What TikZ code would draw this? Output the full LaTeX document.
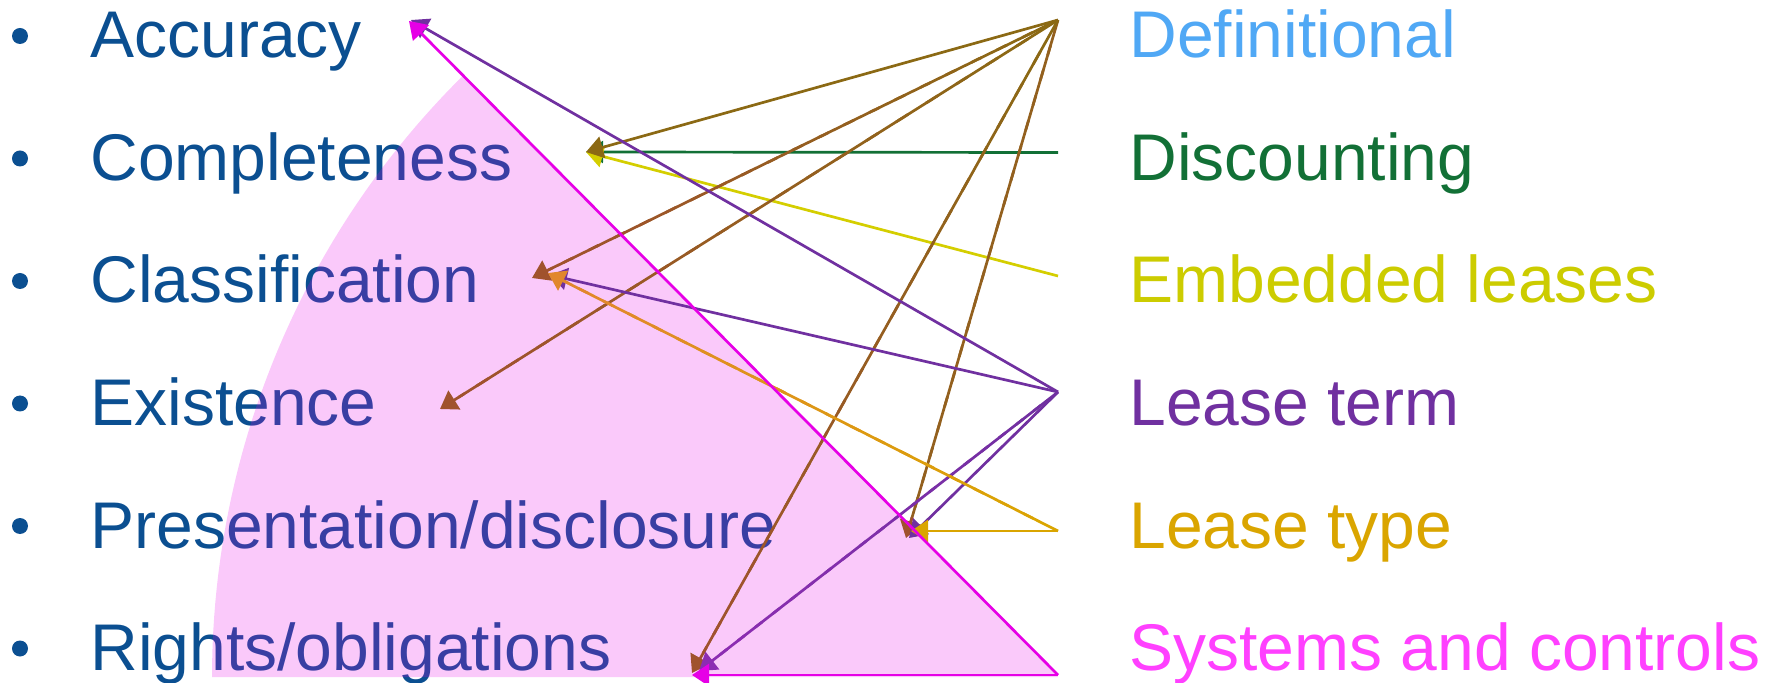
\documentclass[tikz,border=0pt]{standalone}
\usepackage{fontspec}
\setmainfont{Liberation Sans}
\usetikzlibrary{arrows.meta,calc}
\definecolor{cLeft}{RGB}{11,79,145}
\definecolor{cDef}{RGB}{80,168,245}
\definecolor{cDis}{RGB}{18,112,54}
\definecolor{cEmbT}{RGB}{204,204,0}
\definecolor{cEmb}{RGB}{212,206,0}
\definecolor{cTerm}{RGB}{112,48,160}
\definecolor{cViolet}{RGB}{140,45,178}
\definecolor{cType}{RGB}{218,165,0}
\definecolor{cOrange}{RGB}{225,135,45}
\definecolor{cSysT}{RGB}{255,64,255}
\definecolor{cMag}{RGB}{230,0,230}
\definecolor{cOlive}{RGB}{139,105,20}
\definecolor{cSienna}{RGB}{160,82,45}
\tikzset{
  lw/.style={line width=1.35pt},
  arr/.style={line width=1.35pt,-{Triangle[length=8.5pt,width=11pt]}},
  ltxt/.style={anchor=base west,inner sep=0pt,font=\fontsize{33}{40}\selectfont,text=cLeft},
  rtxt/.style={anchor=base west,inner sep=0pt,font=\fontsize{33}{40}\selectfont},
  bul/.style={fill=cLeft,circle,inner sep=0pt,minimum size=8pt},
}
\newcommand\gradarrow[5]{%
  \foreach \k in {0,...,19}{%
    \pgfmathsetmacro\ta{\k/20*0.97}%
    \pgfmathsetmacro\tb{min(0.97,(\k+1.4)/20*0.97)}%
    \pgfmathtruncatemacro\pc{100-\k*100/19}%
    \draw[lw,#3!\pc!#4] ($(#1)!\ta!(#2)$) -- ($(#1)!\tb!(#2)$);
  }%
  \draw[arr,#5] ($(#1)!0.96!(#2)$) -- (#2);
}
\begin{document}
\begin{tikzpicture}[x=0.5pt,y=-0.5pt]
\useasboundingbox (0,0) rectangle (1775,683);
% left labels
\foreach \nm/\yy/\tx in {acc/58/Accuracy,com/180.5/Completeness,cla/303/Classification,exi/425.5/Existence,pre/548/Presentation\slash disclosure,rig/670.5/Rights\slash obligations}{
  \node[bul] (b\nm) at (20,\yy-22) {};
  \node[ltxt] (\nm) at (90,\yy) {\tx};
}
% right labels
\node[rtxt,text=cDef]  (def)  at (1129,58)    {Definitional};
\node[rtxt,text=cDis]  (dis)  at (1129,180.5) {Discounting};
\node[rtxt,text=cEmbT] (emb)  at (1129,303)   {Embedded leases};
\node[rtxt,text=cTerm] (term) at (1129,425.5) {Lease term};
\node[rtxt,text=cType] (type) at (1129,548)   {Lease type};
\node[rtxt,text=cSysT] (sys)  at (1129,670.5) {Systems and controls};
% pink sector
\fill[cMag,fill opacity=0.21] (1058,677) -- plot[domain=134.7:180,samples=90] ({1058+846*cos(\x)},{677-846*sin(\x)}) -- cycle;
% source points
\coordinate (sDef) at (1058,20);
\coordinate (sDis) at (1058,152.5);
\coordinate (sEmb) at (1058,276);
\coordinate (sTerm) at (1058,392);
\coordinate (sType) at (1058,531);
\coordinate (sSys) at (1058,675);
% tip points
\coordinate (tAccM) at (409,21);
\coordinate (tAccP) at (411,20);
\coordinate (tCom) at (586,152);
\coordinate (tClaB) at (532,278);
\coordinate (tClaO) at (548,273);
\coordinate (tClaP) at (550,275);
\coordinate (tExi) at (440,409);
\coordinate (tPreB) at (906,538);
\coordinate (tPreP) at (909,538);
\coordinate (tPreG) at (911,531);
\coordinate (tRigB) at (692,673);
\coordinate (tRigP) at (699,671);
\coordinate (tRigM) at (692,675);
% connectors
\draw[arr,cDis] (sDis) -- (tCom);
\draw[arr,cEmb] (sEmb) -- (tCom);
\draw[arr,cOlive] (sDef) -- (tCom);
\gradarrow{sDef}{tClaB}{cOlive}{cSienna}{cSienna}
\gradarrow{sDef}{tExi}{cOlive}{cSienna}{cSienna}
\gradarrow{sDef}{tPreB}{cOlive}{cOlive!60!cSienna}{cSienna}
\gradarrow{sDef}{tRigB}{cOlive}{cSienna}{cSienna}
\draw[arr,cTerm] (sTerm) -- (tAccP);
\draw[arr,cTerm] (sTerm) -- (tClaP);
\draw[arr,cTerm] (sTerm) -- (tPreP);
\gradarrow{sTerm}{tRigP}{cTerm}{cViolet}{cViolet}
\gradarrow{sType}{tClaO}{cType}{cOrange}{cOrange}
\draw[arr,cType] (sType) -- (tPreG);
\draw[arr,cMag] (sSys) -- (tAccM);
\draw[arr,cMag] (sSys) -- (tRigM);
\end{tikzpicture}
\end{document}
